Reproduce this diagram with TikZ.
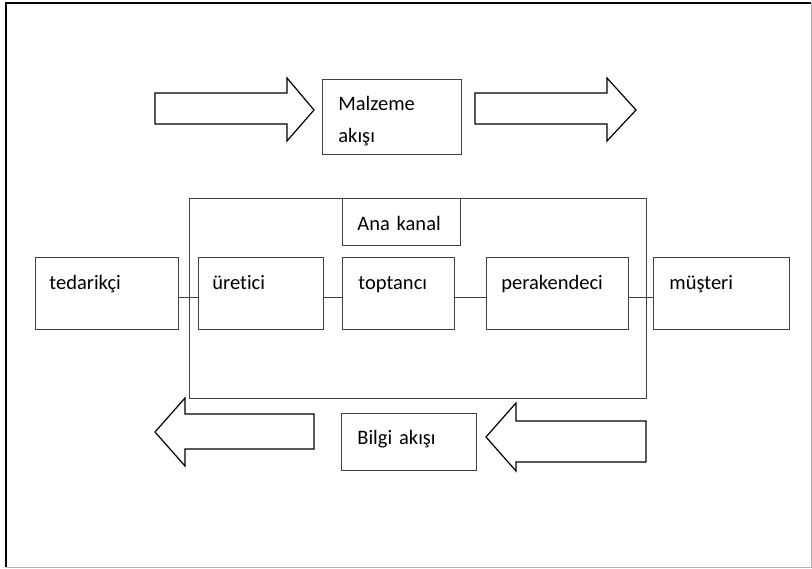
\documentclass[tikz,border=0pt]{standalone}
\usepackage{fontspec}
\setmainfont{Carlito}[Ligatures=NoCommon]
\begin{document}
\begin{tikzpicture}[x=1pt,y=-1pt,
    kutu/.style={draw=black!75, line width=0.8pt, anchor=north west, inner ysep=0pt, align=left,
        font=\fontsize{20.5}{32}\selectfont},
    baglanti/.style={draw=black!75, line width=0.8pt},
    blok/.style={draw, line width=1.2pt, line join=miter}]
\useasboundingbox (0,0) rectangle (812,569);
% sayfa cercevesi
\draw[line width=2pt] (6,567) -- (6,3) -- (811,3);
\draw[black!30, line width=1pt] (811,3) -- (811,567) -- (6,567);

% malzeme akisi
\draw[blok] (155,93) -- (287,93) -- (287,78) -- (314,110) -- (287,141) -- (287,124) -- (155,124) -- cycle;
\node[kutu, inner xsep=16pt, text width=107pt, text height=31pt, text depth=44pt] (malz) at (322,79) {Malzeme\\akışı};
\draw[blok] (475,93) -- (607,93) -- (607,78) -- (636,110) -- (607,141) -- (607,124) -- (475,124) -- cycle;

% ana kanal
\node[draw=black!75, line width=0.8pt, anchor=north west, minimum width=457pt, minimum height=200pt, inner sep=0pt] (kanal) at (189,198) {};
\node[kutu, inner xsep=15pt, text width=88pt, text height=32pt, text depth=15pt] (ana) at (342,198) {Ana kanal};

\node[kutu, inner xsep=14pt, text width=115pt, text height=32pt, text depth=40pt] (ted) at (35,257) {tedarikçi};
\node[kutu, inner xsep=14pt, text width=97pt, text height=32pt, text depth=40pt] (uret) at (198,257) {üretici};
\node[kutu, inner xsep=16pt, text width=80pt, text height=32pt, text depth=40pt] (topt) at (342,257) {toptancı};
\node[kutu, inner xsep=15pt, text width=112pt, text height=32pt, text depth=40pt] (perak) at (486,257) {perakendeci};
\node[kutu, inner xsep=16pt, text width=104pt, text height=32pt, text depth=40pt] (must) at (653,257) {müşteri};

\foreach \a/\b in {ted/uret, uret/topt, topt/perak, perak/must}
    \draw[baglanti] ([yshift=-4pt]\a.east) -- ([yshift=-4pt]\b.west);

% bilgi akisi
\draw[blok] (314,414) -- (185,414) -- (185,398) -- (155,432) -- (185,466) -- (185,449) -- (314,449) -- cycle;
\node[kutu, inner xsep=16pt, text width=103pt, text height=31pt, text depth=26pt] (bilgi) at (341,413) {Bilgi akışı};
\draw[blok] (646,421) -- (516,421) -- (516,403) -- (486,437) -- (516,471) -- (516,462) -- (646,462) -- cycle;
\end{tikzpicture}
\end{document}
